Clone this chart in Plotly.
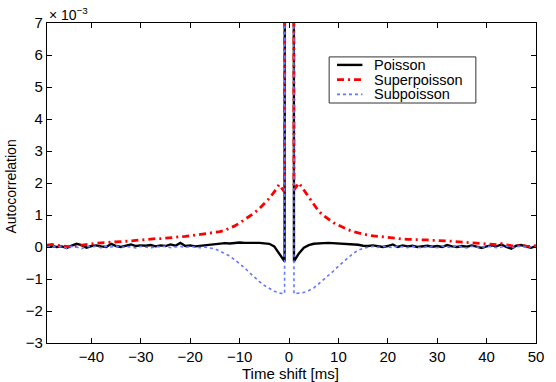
import plotly.graph_objects as go

# time lags in ms (centre lag 0 left out; the spikes sit next to it)
lags_left = list(range(-49, -1))
lags_centre = [-0.9, -0.6, 0.8, 1.0]
lags_right = list(range(2, 51))
lags = lags_left + lags_centre + lags_right

# autocorrelation values, in units of 1e-3
poisson_left = [0.05, 0.03, 0.0, 0.02, -0.03, 0.04, 0.1, 0.06, -0.02, 0.03,
                0.05, 0.02, 0.0, 0.1, 0.03, 0.0, 0.05, 0.08, 0.03, 0.05,
                0.04, 0.06, 0.02, 0.05, 0.03, 0.08, 0.04, 0.13, 0.03, 0.05,
                0.02, 0.04, 0.06, 0.08, 0.1, 0.12, 0.12, 0.11, 0.13, 0.14,
                0.13, 0.12, 0.13, 0.13, 0.12, 0.1, 0.02, -0.2]
poisson_centre = [-0.45, 60, 60, -0.45]
poisson_right = [-0.2, -0.02, 0.06, 0.1, 0.12, 0.12, 0.13, 0.12, 0.12, 0.12,
                 0.1, 0.08, 0.07, 0.04, 0.03, 0.05, 0.02, 0.0, 0.03, 0.08,
                 0.0, 0.05, 0.02, 0.04, 0.0, 0.02, 0.04, 0.01, 0.03, 0.0,
                 0.06, 0.02, 0.0, 0.03, 0.01, 0.05, 0.0, -0.03, 0.02, 0.05,
                 0.02, 0.08, 0.0, -0.05, 0.04, 0.06, 0.01, -0.02, 0.03]

super_left = [0.06, 0.08, 0.05, 0.04, 0.03, 0.0, 0.03, 0.06, 0.08, 0.1,
              0.12, 0.12, 0.14, 0.15, 0.15, 0.17, 0.18, 0.2, 0.2, 0.22,
              0.23, 0.25, 0.26, 0.26, 0.28, 0.29, 0.3, 0.32, 0.33, 0.35,
              0.36, 0.38, 0.4, 0.43, 0.45, 0.48, 0.52, 0.58, 0.66, 0.75,
              0.85, 0.95, 1.07, 1.2, 1.35, 1.52, 1.72, 1.95]
super_centre = [1.72, 60, 60, 1.78]
super_right = [2.0, 1.78, 1.52, 1.3, 1.12, 0.98, 0.86, 0.76, 0.68, 0.6,
               0.54, 0.48, 0.44, 0.4, 0.37, 0.35, 0.33, 0.31, 0.29, 0.28,
               0.27, 0.25, 0.24, 0.24, 0.23, 0.22, 0.22, 0.21, 0.21, 0.2,
               0.19, 0.18, 0.17, 0.16, 0.14, 0.12, 0.11, 0.1, 0.09, 0.08,
               0.07, 0.1, 0.06, 0.04, 0.03, 0.06, 0.03, 0.02, 0.04]

sub_left = [0.0, 0.03, -0.02, 0.02, -0.04, 0.02, 0.0, -0.05, 0.02, 0.0,
            0.03, -0.03, 0.02, 0.0, 0.04, -0.02, 0.02, 0.0, -0.03, 0.02,
            0.0, -0.03, 0.02, 0.0, 0.03, -0.02, 0.0, 0.02, -0.01, 0.01,
            0.0, -0.02, 0.0, -0.02, -0.06, -0.13, -0.2, -0.28, -0.4, -0.52,
            -0.65, -0.8, -0.95, -1.08, -1.2, -1.3, -1.38, -1.44]
sub_centre = [-1.46, 60, 60, -1.46]
sub_right = [-1.45, -1.42, -1.36, -1.28, -1.15, -1.02, -0.9, -0.75, -0.6, -0.45,
             -0.33, -0.2, -0.1, -0.04, 0.0, 0.02, -0.01, 0.02, 0.0, -0.02,
             0.03, 0.0, -0.02, 0.02, 0.0, -0.03, 0.02, 0.01, -0.02, 0.03,
             0.0, -0.02, 0.04, 0.0, -0.03, 0.02, 0.0, -0.02, 0.03, 0.01,
             -0.02, 0.0, 0.03, -0.02, 0.01, 0.03, -0.01, 0.0, 0.02]

poisson = poisson_left + poisson_centre + poisson_right
superpoisson = super_left + super_centre + super_right
subpoisson = sub_left + sub_centre + sub_right

names = ["Poisson", "Superpoisson", "Subpoisson"]
series = [poisson, superpoisson, subpoisson]
line_styles = [dict(color="black", width=2.4),
               dict(color="#ff0000", width=2.8, dash="7px,4px,2px,4px"),
               dict(color="#6677ff", width=1.6, dash="dot")]

font = "Liberation Sans, Arial, Helvetica, sans-serif"

fig = go.Figure()
for name, ys, ls in zip(names, series, line_styles):
    fig.add_trace(go.Scatter(x=lags, y=ys, name=name, mode="lines", line=ls,
                             showlegend=False))

axis_style = dict(showgrid=False, zeroline=False, showline=True, linecolor="black",
                  linewidth=1.2, mirror="ticks", ticks="inside", ticklen=5,
                  tickcolor="black", tickfont=dict(size=15, color="black"))

fig.update_xaxes(range=[-49, 50], tickvals=list(range(-40, 51, 10)), **axis_style)
fig.update_yaxes(range=[-3, 7], tickvals=list(range(-3, 8)), **axis_style)

# boxed legend in the upper right, MATLAB style
shapes = [dict(type="rect", xref="paper", yref="paper", x0=0.577, x1=0.877,
               y0=0.75, y1=0.894, line=dict(color="#333333", width=1),
               fillcolor="white", layer="above")]
annotations = []
row_y = [0.869, 0.823, 0.777]
for name, ls, ry in zip(names, line_styles, row_y):
    shapes.append(dict(type="line", xref="paper", yref="paper", x0=0.593, x1=0.645,
                       y0=ry, y1=ry, line=ls, layer="above"))
    annotations.append(dict(text=name, xref="paper", yref="paper", x=0.665, y=ry,
                            xanchor="left", yanchor="middle", showarrow=False,
                            font=dict(size=14.5)))

annotations += [
    dict(text="× 10<sup>−3</sup>", xref="paper", yref="paper", x=0, y=1,
         xanchor="left", yanchor="bottom", yshift=-2, showarrow=False,
         font=dict(size=14)),
    dict(text="Time shift [ms]", xref="paper", yref="paper", x=0.497, y=-0.094,
         xanchor="center", yanchor="middle", showarrow=False, font=dict(size=15)),
    dict(text="Autocorrelation", xref="paper", yref="paper", x=-0.073, y=0.49,
         xanchor="center", yanchor="middle", textangle=-90, showarrow=False,
         font=dict(size=14)),
]

fig.update_layout(
    width=556, height=382,
    margin=dict(l=47, r=13, t=23, b=39),
    paper_bgcolor="white", plot_bgcolor="white",
    font=dict(family=font, color="black"),
    shapes=shapes,
    annotations=annotations,
)

# drop the default page margin so the figure fills the window exactly
fig.write_html("out.html", config={"displayModeBar": False},
               post_script="document.body.style.margin='0';"
                           "document.body.style.overflow='hidden';")
